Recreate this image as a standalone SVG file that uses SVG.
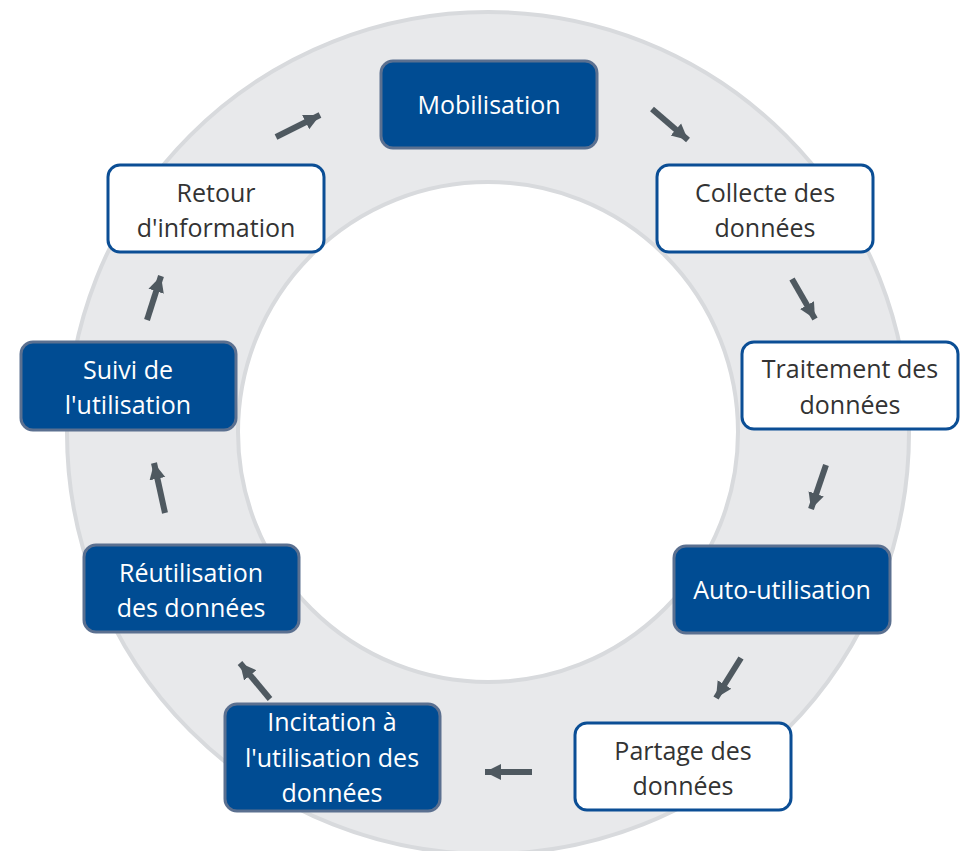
<svg xmlns="http://www.w3.org/2000/svg" width="967" height="851" viewBox="0 0 967 851">
<style>
.node rect{stroke-width:3}
.dark rect{fill:#004C93;stroke:#5B7090}
.light rect{fill:#FFFFFF;stroke:#0B4E95}
text{font-family:"Open Sans","Liberation Sans",sans-serif;font-size:25px;text-anchor:middle}
.dark text{fill:#FFFFFF}
.light text{fill:#333333}
.conn line{stroke:#4F5960;stroke-width:6}
</style>
<defs>
<marker id="ah" markerUnits="userSpaceOnUse" markerWidth="18" markerHeight="18" viewBox="0 0 18 18" refX="16" refY="9" orient="auto">
<path d="M0,1 L16,9 L0,17 Z" fill="#4F5960"/>
</marker>
</defs>
<rect width="967" height="851" fill="#FFFFFF"/>
<g id="ring">
<circle cx="488" cy="433" r="421" fill="#E8E9EB" stroke="#D8DADD" stroke-width="4"/>
<circle cx="488" cy="432" r="250" fill="#FFFFFF" stroke="#D8DADD" stroke-width="4"/>
</g>
<g class="conn" id="connectors">
<line x1="652" y1="109" x2="688" y2="140" marker-end="url(#ah)"/>
<line x1="792" y1="279" x2="815" y2="319" marker-end="url(#ah)"/>
<line x1="826" y1="465" x2="811" y2="509" marker-end="url(#ah)"/>
<line x1="741" y1="658" x2="716" y2="698" marker-end="url(#ah)"/>
<line x1="532" y1="772" x2="485" y2="772" marker-end="url(#ah)"/>
<line x1="270" y1="699" x2="240" y2="663" marker-end="url(#ah)"/>
<line x1="165" y1="513" x2="154" y2="463" marker-end="url(#ah)"/>
<line x1="147" y1="320" x2="161" y2="276" marker-end="url(#ah)"/>
<line x1="276" y1="137" x2="320" y2="115" marker-end="url(#ah)"/>
</g>
<g id="n-mobilisation" class="node dark">
<rect x="381" y="61" width="216" height="87" rx="12"/>
<text x="489" y="114">Mobilisation</text>
</g>
<g id="n-collecte" class="node light">
<rect x="657" y="165" width="216" height="87" rx="12"/>
<text x="765" y="202">Collecte des</text>
<text x="765" y="237">données</text>
</g>
<g id="n-traitement" class="node light">
<rect x="742" y="342" width="216" height="87" rx="12"/>
<text x="850" y="378">Traitement des</text>
<text x="850" y="414">données</text>
</g>
<g id="n-auto" class="node dark">
<rect x="674" y="546" width="216" height="87" rx="12"/>
<text x="782" y="599">Auto-utilisation</text>
</g>
<g id="n-partage" class="node light">
<rect x="575" y="723" width="216" height="87" rx="12"/>
<text x="683" y="760">Partage des</text>
<text x="683" y="795">données</text>
</g>
<g id="n-incitation" class="node dark">
<rect x="225" y="704" width="215" height="107" rx="12"/>
<text x="332" y="731">Incitation à</text>
<text x="332" y="767">l'utilisation des</text>
<text x="332" y="802">données</text>
</g>
<g id="n-reutilisation" class="node dark">
<rect x="84" y="545" width="215" height="87" rx="12"/>
<text x="191" y="582">Réutilisation</text>
<text x="191" y="617">des données</text>
</g>
<g id="n-suivi" class="node dark">
<rect x="21" y="342" width="215" height="88" rx="12"/>
<text x="128" y="379">Suivi de</text>
<text x="128" y="414">l'utilisation</text>
</g>
<g id="n-retour" class="node light">
<rect x="108" y="165" width="216" height="87" rx="12"/>
<text x="216" y="202">Retour</text>
<text x="216" y="237">d'information</text>
</g>
</svg>
